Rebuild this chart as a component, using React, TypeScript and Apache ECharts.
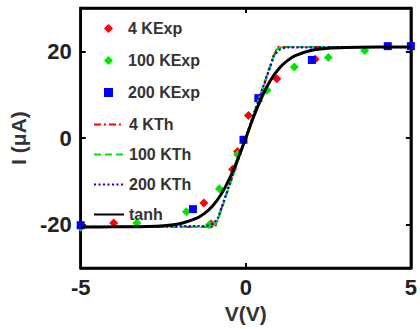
import React, { useEffect, useRef } from "react";
import * as echarts from "echarts";

// Experimental points [V, I(μA)]
const exp4K: number[][] = [
  [-4.0, -19.6], [-1.27, -15.0], [-1.05, -19.8], [-0.4, -7.2], [-0.25, -3.1],
  [0.08, 5.2], [0.94, 13.7], [2.1, 18.2],
];
const exp100K: number[][] = [
  [-5, -20.6], [-3.3, -19.6], [-1.8, -17.0], [-1.1, -20.0], [-0.8, -11.7],
  [-0.25, -3.8], [0.64, 11.0], [1.47, 16.4], [2.5, 18.6], [3.6, 20.2],
];
const exp200K: number[][] = [
  [-5, -20.1], [-1.6, -16.4], [-0.07, -0.4], [0.38, 9.2], [2.0, 18.0],
  [4.3, 21.2], [5, 21.2],
];

// Theory curves [V, I(μA)]
const th4K: number[][] = [[-5, -20.5], [-0.93, -20.5], [0.95, 21], [5, 21]];
const th100K: number[][] = [
  [-5, -20.5], [-1.1, -20.4], [-0.95, -20.0], [-0.85, -19.0],
  [0.85, 19.2], [0.95, 20.5], [1.1, 21], [5, 21],
];
const th200K: number[][] = [
  [-5, -20.5], [-1.2, -20.3], [-1.0, -19.8], [-0.85, -18.6],
  [0.85, 19.0], [1.0, 20.3], [1.2, 20.9], [5, 21],
];
const tanhCurve: number[][] = [
  [-5, -20.5], [-4, -20.49], [-3, -20.4], [-2.5, -20.23], [-2, -19.76],
  [-1.5, -18.55], [-1.25, -17.39], [-1, -15.61], [-0.75, -13.02], [-0.5, -9.47],
  [-0.25, -5.02], [0, 0], [0.25, 5.14], [0.5, 9.7], [0.75, 13.34], [1, 15.99],
  [1.25, 17.81], [1.5, 19.01], [2, 20.24], [2.5, 20.72], [3, 20.9], [4, 20.99], [5, 21],
];

const xTicks = [-5, 0, 5];
const yTicks = [-20, 0, 20];

const FONT = "'Liberation Sans', Arial, sans-serif";

export default function App() {
  const ref = useRef<HTMLDivElement>(null);
  useEffect(() => {
    if (!ref.current) return;
    const chart = echarts.init(ref.current, undefined, { renderer: "svg" });
    const axisLine = { show: true, onZero: false, lineStyle: { color: "#000", width: 2.5 } };
    const tick = { show: true, inside: true, length: 5, lineStyle: { color: "#000", width: 2 } };
    const legendText = { fontFamily: FONT, fontWeight: "bold", fontSize: 16, lineHeight: 17, color: "#333" };
    chart.setOption({
      animation: false,
      backgroundColor: "#fff",
      grid: { left: 77, right: 6, top: 8, bottom: 55, show: true, borderColor: "#000", borderWidth: 2.5, backgroundColor: "#fff" },
      xAxis: [
        {
          type: "value", min: -5, max: 5, interval: 5, position: "bottom",
          name: "V(V)", nameLocation: "middle", nameGap: 32,
          nameTextStyle: { fontFamily: FONT, fontWeight: "bold", fontSize: 21, color: "#333" },
          axisLine, axisTick: { ...tick, customValues: xTicks },
          axisLabel: { customValues: xTicks, margin: 8, fontFamily: FONT, fontWeight: "bold", fontSize: 22, color: "#222" },
          splitLine: { show: false },
        },
        {
          type: "value", min: -5, max: 5, interval: 5, position: "top",
          axisLine, axisTick: { ...tick, customValues: [0] }, axisLabel: { show: false }, splitLine: { show: false },
        },
      ],
      yAxis: [
        {
          type: "value", min: -30, max: 30, interval: 10, position: "left",
          name: "I (μA)", nameLocation: "middle", nameGap: 48,
          nameTextStyle: { fontFamily: FONT, fontWeight: "bold", fontSize: 21, color: "#333" },
          axisLine, axisTick: { ...tick, customValues: yTicks },
          axisLabel: { customValues: yTicks, margin: 9, fontFamily: FONT, fontWeight: "bold", fontSize: 22, color: "#222" },
          splitLine: { show: false },
        },
        {
          type: "value", min: -30, max: 30, interval: 10, position: "right",
          axisLine, axisTick: { ...tick, customValues: yTicks }, axisLabel: { show: false }, splitLine: { show: false },
        },
      ],
      legend: [
        {
          data: ["4 KExp", "100 KExp", "200 KExp"],
          orient: "vertical", left: 99, top: 15, itemWidth: 9, itemHeight: 9, itemGap: 15,
          textStyle: { ...legendText, padding: [0, 0, 0, 10] },
          selectedMode: false,
        },
        {
          data: ["4 KTh", "100 KTh", "200 KTh", "tanh"],
          orient: "vertical", left: 88, top: 111, itemWidth: 30, itemHeight: 14, itemGap: 13,
          itemStyle: { opacity: 0 },
          textStyle: legendText,
          selectedMode: false,
        },
      ],
      series: [
        { name: "4 KTh", type: "line", data: th4K, symbol: "none", lineStyle: { color: "#ff0000", width: 2, type: [7, 3, 2, 3] }, itemStyle: { color: "#ff0000" } },
        { name: "100 KTh", type: "line", data: th100K, symbol: "none", lineStyle: { color: "#00e600", width: 2.2, type: [7, 4] }, itemStyle: { color: "#00e600" } },
        { name: "200 KTh", type: "line", data: th200K, symbol: "none", lineStyle: { color: "#0000ff", width: 2.2, type: [2, 2.5] }, itemStyle: { color: "#0000ff" } },
        { name: "tanh", type: "line", data: tanhCurve, symbol: "none", smooth: 0.3, lineStyle: { color: "#000", width: 3 }, itemStyle: { color: "#000" } },
        { name: "4 KExp", type: "scatter", data: exp4K, symbol: "diamond", symbolSize: 9, itemStyle: { color: "#ff0000", opacity: 1 } },
        { name: "100 KExp", type: "scatter", data: exp100K, symbol: "diamond", symbolSize: 9, itemStyle: { color: "#00e600", opacity: 1 } },
        { name: "200 KExp", type: "scatter", data: exp200K, symbol: "rect", symbolSize: 8, itemStyle: { color: "#0000ff", opacity: 1 } },
      ],
    });
    return () => chart.dispose();
  }, []);
  return <div ref={ref} style={{ position: "fixed", left: 0, top: 0, width: 420, height: 329 }} />;
}
